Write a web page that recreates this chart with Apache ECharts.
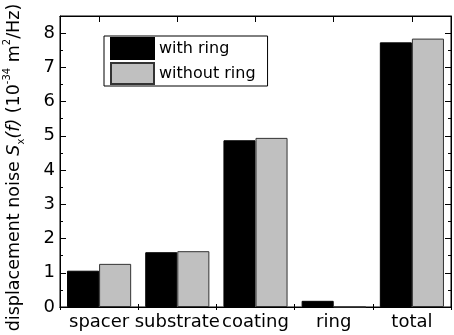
<!DOCTYPE html>
<html><head><meta charset="utf-8">
<script src="https://cdn.jsdelivr.net/npm/echarts@6/dist/echarts.min.js"></script>
<style>html,body{margin:0;padding:0;background:#fff}#c{width:454px;height:335px}</style>
</head><body><div id="c"></div>
<script>
const categories = ['spacer', 'substrate', 'coating', 'ring', 'total'];
const withRing = [1.06, 1.60, 4.87, 0.18, 7.73];
const withoutRing = [1.26, 1.63, 4.94, 0, 7.84];
const yTicks = [0, 1, 2, 3, 4, 5, 6, 7, 8];

const FONT = 'DejaVu Sans';
const FS = 18;
const chart = echarts.init(document.getElementById('c'), null, {renderer: 'canvas'});
const grid = {left: 60, right: 3, top: 16, bottom: 28, show: true, borderColor: '#000', borderWidth: 1,
  backgroundColor: 'transparent', containLabel: false, outerBoundsMode: 'none'};
const baseCat = {
  type: 'category', data: categories, gridIndex: 0,
  axisLine: {show: true, lineStyle: {color: '#000', width: 1}}
};
const option = {
  animation: false,
  grid: grid,
  legend: {
    orient: 'vertical', left: 104, top: 36,
    itemWidth: 43, itemHeight: 21, itemGap: 2,
    padding: [1, 12, 1, 6],
    borderColor: '#000', borderWidth: 1,
    textStyle: {fontFamily: FONT, fontSize: 16, color: '#000'},
    icon: 'rect',
    data: ['with ring', 'without ring']
  },
  xAxis: [
    Object.assign({}, baseCat, {
      position: 'bottom',
      axisTick: {show: true, inside: true, length: 3, interval: 0, lineStyle: {color: '#000'}},
      axisLabel: {fontFamily: FONT, fontSize: FS, color: '#000', margin: 6, interval: 0}
    }),
    Object.assign({}, baseCat, {
      position: 'top',
      axisTick: {show: true, inside: true, length: 3, interval: 0, lineStyle: {color: '#000'}},
      axisLabel: {show: false}
    }),
    Object.assign({}, baseCat, {
      position: 'top',
      axisTick: {show: true, inside: true, length: 6, interval: 0, alignWithLabel: true, lineStyle: {color: '#000'}},
      axisLabel: {show: false}
    })
  ],
  yAxis: [
    {
      type: 'value', min: 0, max: 8.5, interval: 1, position: 'left',
      axisLine: {show: true, lineStyle: {color: '#000'}},
      axisTick: {show: true, inside: true, length: 6, lineStyle: {color: '#000'}},
      minorTick: {show: true, splitNumber: 2, length: 3, lineStyle: {color: '#000'}},
      splitLine: {show: false},
      axisLabel: {fontFamily: FONT, fontSize: FS, color: '#000', margin: 5,
        formatter: v => (yTicks.indexOf(v) >= 0 ? String(v) : '')},
      name: '{n|displacement noise }{i|S}{sub|x}{i|(f)}{n| (10}{sup|-34}{n| m}{sup|2}{n|/Hz)}',
      nameLocation: 'middle', nameRotate: 90, nameGap: 34,
      nameTextStyle: {
        color: '#000', fontFamily: FONT, fontSize: FS,
        padding: [0, 12, 0, 0],
        rich: {
          n: {fontFamily: FONT, fontSize: 17.5, color: '#000', lineHeight: 24, verticalAlign: 'middle'},
          i: {fontFamily: FONT, fontSize: 17.5, color: '#000', fontStyle: 'italic', lineHeight: 24, verticalAlign: 'middle'},
          sub: {fontFamily: FONT, fontSize: 10, color: '#000', verticalAlign: 'bottom', lineHeight: 24},
          sup: {fontFamily: FONT, fontSize: 10, color: '#000', verticalAlign: 'top', lineHeight: 24}
        }
      }
    },
    {
      type: 'value', min: 0, max: 8.5, interval: 1, position: 'right',
      axisLine: {show: true, lineStyle: {color: '#000'}},
      axisTick: {show: true, inside: true, length: 6, lineStyle: {color: '#000'}},
      minorTick: {show: true, splitNumber: 2, length: 3, lineStyle: {color: '#000'}},
      splitLine: {show: false},
      axisLabel: {show: false}
    }
  ],
  series: [
    {
      name: 'with ring', type: 'bar', data: withRing, xAxisIndex: 0, yAxisIndex: 0,
      barGap: '0%', barCategoryGap: '18%',
      itemStyle: {color: '#000', borderColor: '#000', borderWidth: 1}
    },
    {
      name: 'without ring', type: 'bar', data: withoutRing, xAxisIndex: 0, yAxisIndex: 0,
      barGap: '0%', barCategoryGap: '18%',
      itemStyle: {color: '#c0c0c0', borderColor: '#333', borderWidth: 1}
    }
  ]
};
chart.setOption(option);
</script></body></html>
